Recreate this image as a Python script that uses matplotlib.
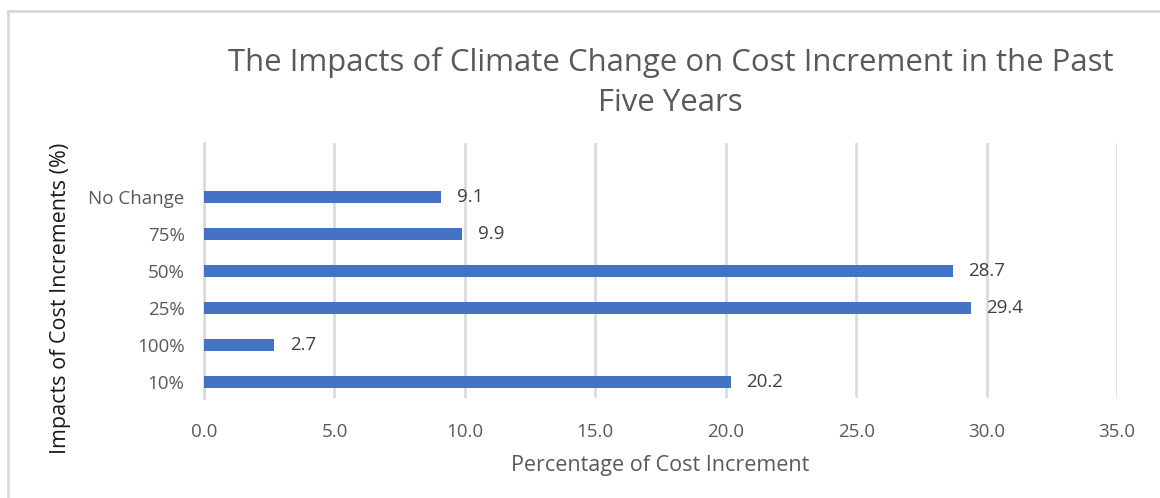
import matplotlib.pyplot as plt
from matplotlib.patches import Rectangle

plt.rcParams['font.family'] = ['Open Sans', 'DejaVu Sans']

categories = ["10%", "100%", "25%", "50%", "75%", "No Change"]
values = [20.2, 2.7, 29.4, 28.7, 9.9, 9.1]
xticks = [0, 5, 10, 15, 20, 25, 30, 35]

grey = "#595959"

fig = plt.figure(figsize=(11.6, 4.98), dpi=100)
ax = fig.add_axes([0.1759, 0.2008, 0.7870, 0.5121])

pos = list(range(len(categories)))
ax.barh(pos, values, height=0.33, color="#4472C4", zorder=3)

for p, v in zip(pos, values):
    ax.text(v + 0.6, p, f"{v:.1f}", va="center", ha="left",
            fontsize=13.5, color="#404040")

ax.set_xlim(0, 35)
ax.set_ylim(-0.43, 6.46)
ax.set_xticks(xticks)
ax.set_xticklabels([f"{t:.1f}" for t in xticks])
ax.set_yticks(pos)
ax.set_yticklabels(categories)
ax.tick_params(axis="both", length=0, labelsize=13.5, labelcolor=grey)
ax.tick_params(axis="x", pad=18)
ax.tick_params(axis="y", pad=14)

ax.grid(axis="x", color="#d9d9d9", linewidth=1.8, zorder=0)
for s in ["top", "right", "bottom"]:
    ax.spines[s].set_visible(False)
ax.spines["left"].set_color("#d9d9d9")
ax.spines["left"].set_linewidth(1.8)

fig.text(0.569, 0.066, "Percentage of Cost Increment", ha="center", va="center",
         fontsize=15.5, color=grey)
fig.text(0.052, 0.40, "Impacts of Cost Increments (%)", rotation=90,
         ha="center", va="center", fontsize=15.5, color="#1a1a1a")

fig.text(0.578, 0.875, "The Impacts of Climate Change on Cost Increment in the Past",
         ha="center", va="center", fontsize=22.4, color=grey)
fig.text(0.578, 0.793, "Five Years",
         ha="center", va="center", fontsize=22.4, color=grey)

fig.patches.append(Rectangle((8 / 1160, -0.05), 1.1, 0.05 + (498 - 11) / 498,
                             transform=fig.transFigure, fill=False,
                             edgecolor="#d9d9d9", linewidth=2))

fig.savefig("out.png", dpi=100)
